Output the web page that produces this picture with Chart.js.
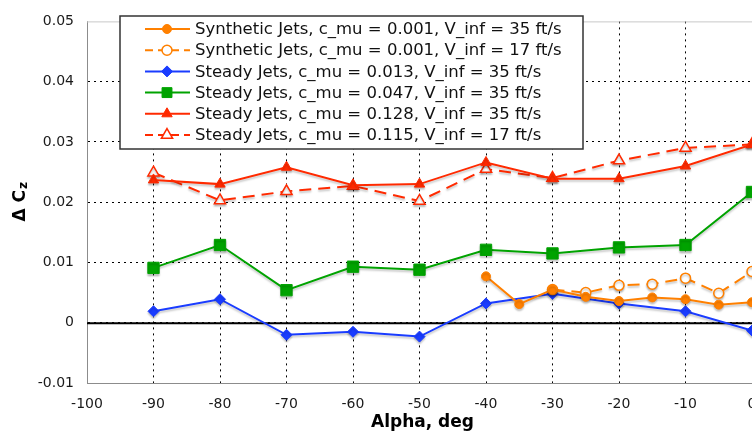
<!DOCTYPE html>
<html>
<head>
<meta charset="utf-8">
<script src="https://cdn.jsdelivr.net/npm/chart.js@4/dist/chart.umd.min.js"></script>
<style>
  html, body { margin: 0; padding: 0; background: #fff; overflow: hidden; }
  #wrap { position: relative; width: 800px; height: 435px; }
</style>
</head>
<body>
<div id="wrap"><canvas id="chart" width="800" height="435"></canvas></div>
<script>
// angle of attack values (deg)
const alphaSteady = [-90, -80, -70, -60, -50, -40, -30, -20, -10, 0];
const alphaSynth35 = [-40, -35, -30, -25, -20, -15, -10, -5, 0];
const alphaSynth17 = [-30, -25, -20, -15, -10, -5, 0];

// delta Cz
const synth35 = [0.0077, 0.0031, 0.0055, 0.0043, 0.0036, 0.0042, 0.0039, 0.0030, 0.0034];
const synth17 = [0.0055, 0.0050, 0.0062, 0.0064, 0.0074, 0.0049, 0.0085];
const steady013 = [0.0019, 0.0039, -0.0020, -0.0015, -0.0023, 0.0032, 0.0048, 0.0032, 0.0019, -0.0013];
const steady047 = [0.0091, 0.0129, 0.0054, 0.0093, 0.0088, 0.0121, 0.0115, 0.0125, 0.0129, 0.0217];
const steady128 = [0.0237, 0.0230, 0.0258, 0.0228, 0.0230, 0.0266, 0.0239, 0.0239, 0.0260, 0.0296];
const steady115 = [0.0249, 0.0203, 0.0218, 0.0227, 0.0202, 0.0255, 0.0240, 0.0269, 0.0290, 0.0296];

const seriesLabels = [
    "Synthetic Jets, c_mu = 0.001, V_inf = 35 ft/s",
    "Synthetic Jets, c_mu = 0.001, V_inf = 17 ft/s",
    "Steady Jets, c_mu = 0.013, V_inf = 35 ft/s",
    "Steady Jets, c_mu = 0.047, V_inf = 35 ft/s",
    "Steady Jets, c_mu = 0.128, V_inf = 35 ft/s",
    "Steady Jets, c_mu = 0.115, V_inf = 17 ft/s",
];

const FONT = "'DejaVu Sans', Verdana, sans-serif";
const ORANGE = "#ff8000";
const BLUE = "#1a3cff";
const GREEN = "#00a300";
const RED = "#ff2a00";

function pts(xs, ys) {
    return xs.map((x, i) => ({ x: x, y: ys[i] }));
}

function series(label, xs, ys, color, style, radius, filled, dash) {
    return {
        label: label,
        data: pts(xs, ys),
        borderColor: color,
        backgroundColor: filled ? color : "#fff",
        borderWidth: 2,
        borderDash: dash || [],
        pointStyle: style,
        pointRadius: radius,
        pointBorderColor: color,
        pointBackgroundColor: filled ? color : "#fff",
        pointBorderWidth: filled ? 1 : 1.5,
        tension: 0,
    };
}

const datasets = [
    series(seriesLabels[0], alphaSynth35, synth35, ORANGE, "circle", 4.5, true),
    series(seriesLabels[1], alphaSynth17, synth17, ORANGE, "circle", 5, false, [12, 7]),
    series(seriesLabels[2], alphaSteady, steady013, BLUE, "rectRot", 5.5, true),
    series(seriesLabels[3], alphaSteady, steady047, GREEN, "rect", 8, true),
    series(seriesLabels[4], alphaSteady, steady128, RED, "triangle", 6, true),
    series(seriesLabels[5], alphaSteady, steady115, RED, "triangle", 6.5, false, [12, 7]),
];

// soft grey drop shadow under every line and marker
const shadowPlugin = {
    id: "shadow",
    beforeDatasetDraw(chart) {
        const ctx = chart.ctx;
        ctx.save();
        ctx.shadowColor = "rgba(0,0,0,0.22)";
        ctx.shadowBlur = 2;
        ctx.shadowOffsetX = 0;
        ctx.shadowOffsetY = 2;
    },
    afterDatasetDraw(chart) {
        chart.ctx.restore();
    },
};

// zero line, top frame and axis titles
const framePlugin = {
    id: "frame",
    beforeDatasetsDraw(chart) {
        const { ctx, chartArea } = chart;
        const y0 = chart.scales.y.getPixelForValue(0);
        ctx.save();
        ctx.strokeStyle = "#000";
        ctx.lineWidth = 2;
        ctx.beginPath();
        ctx.moveTo(chartArea.left, y0 + 0.5);
        ctx.lineTo(chartArea.right, y0 + 0.5);
        ctx.stroke();
        ctx.strokeStyle = "#c8c8c8";
        ctx.lineWidth = 1;
        ctx.beginPath();
        ctx.moveTo(chartArea.left, chartArea.top + 0.5);
        ctx.lineTo(chartArea.right, chartArea.top + 0.5);
        ctx.stroke();
        ctx.restore();
    },
    afterDraw(chart) {
        const { ctx, chartArea } = chart;
        ctx.save();
        ctx.fillStyle = "#000";
        ctx.font = "bold 17px " + FONT;
        ctx.textAlign = "center";
        ctx.textBaseline = "middle";
        ctx.fillText("Alpha, deg", (chartArea.left + chartArea.right) / 2 + 3, 423);

        // rotated "Δ Cz" with subscript z
        const main = "\u0394 C";
        ctx.font = "bold 17px " + FONT;
        const wMain = ctx.measureText(main).width;
        ctx.font = "bold 12px " + FONT;
        const wSub = ctx.measureText("z").width;
        ctx.translate(19, (chartArea.top + chartArea.bottom) / 2);
        ctx.rotate(-Math.PI / 2);
        ctx.textAlign = "left";
        ctx.textBaseline = "alphabetic";
        const start = -(wMain + wSub) / 2;
        ctx.font = "bold 17px " + FONT;
        ctx.fillText(main, start, 6);
        ctx.font = "bold 12px " + FONT;
        ctx.fillText("z", start + wMain + 1, 8);
        ctx.restore();
    },
};

// boxed legend inside the plot
const legendPlugin = {
    id: "boxLegend",
    afterDatasetsDraw(chart) {
        const { ctx } = chart;
        const box = { x: 120, y: 16, w: 463, h: 133 };
        ctx.save();
        ctx.fillStyle = "#fff";
        ctx.fillRect(box.x, box.y, box.w, box.h);
        ctx.strokeStyle = "#333";
        ctx.lineWidth = 1.5;
        ctx.strokeRect(box.x, box.y, box.w, box.h);

        chart.data.datasets.forEach((ds, i) => {
            const cy = 29 + i * 21.2;
            ctx.strokeStyle = ds.borderColor;
            ctx.lineWidth = 2;
            ctx.setLineDash(ds.borderDash.length ? [8, 5] : []);
            ctx.beginPath();
            ctx.moveTo(145, cy);
            ctx.lineTo(190, cy);
            ctx.stroke();
            ctx.setLineDash([]);
            ctx.fillStyle = ds.pointBackgroundColor;
            ctx.strokeStyle = ds.pointBorderColor;
            ctx.lineWidth = ds.pointBorderWidth;
            Chart.helpers.drawPoint(ctx, {
                pointStyle: ds.pointStyle,
                radius: ds.pointStyle === "rect" ? 7 : ds.pointRadius,
                rotation: 0,
                borderWidth: ds.pointBorderWidth,
            }, 167, cy);

            ctx.fillStyle = "#111";
            ctx.font = "16.5px " + FONT;
            ctx.textAlign = "left";
            ctx.textBaseline = "middle";
            ctx.fillText(ds.label, 195, cy + 1);
        });
        ctx.restore();
    },
};

const hideEdge = (edges) => (c) =>
    edges.includes(Math.round(c.tick.value * 1000) / 1000) ? "rgba(0,0,0,0)" : "#000";

new Chart(document.getElementById("chart"), {
    type: "line",
    data: { datasets: datasets },
    plugins: [shadowPlugin, framePlugin, legendPlugin],
    options: {
        responsive: false,
        animation: false,
        layout: { padding: { left: 0, right: 48, top: 12, bottom: 0 } },
        plugins: {
            legend: { display: false },
            tooltip: { enabled: false },
        },
        scales: {
            x: {
                type: "linear",
                min: -100,
                max: 0,
                ticks: {
                    stepSize: 10,
                    padding: 13,
                    color: "#1a1a1a",
                    font: { family: FONT, size: 14 },
                    maxRotation: 0,
                },
                grid: {
                    color: hideEdge([-100, 0]),
                    lineWidth: 1,
                    drawTicks: false,
                },
                border: { display: true, color: "#8c8c8c", width: 1, dash: [2, 4] },
                afterFit(scale) { scale.height = 52; },
            },
            y: {
                min: -0.01,
                max: 0.05,
                ticks: {
                    stepSize: 0.01,
                    padding: 13,
                    color: "#1a1a1a",
                    font: { family: FONT, size: 14 },
                    callback: (v) => (Math.abs(v) < 1e-9 ? "0" : v.toFixed(2)),
                },
                grid: {
                    color: hideEdge([-0.01, 0.05]),
                    lineWidth: 1,
                    drawTicks: false,
                },
                border: { display: true, color: "#8c8c8c", width: 1, dash: [2, 4] },
                afterFit(scale) { scale.width = 87; },
            },
        },
    },
});
</script>
</body>
</html>
